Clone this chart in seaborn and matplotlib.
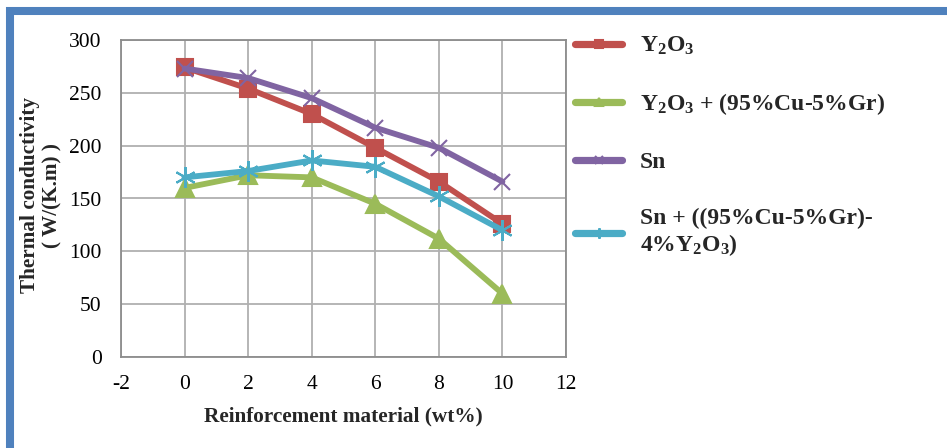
import matplotlib
matplotlib.use("Agg")
import matplotlib.pyplot as plt
import seaborn as sns
import pandas as pd
from matplotlib.patches import Rectangle

# ---- data ----
wt = [0, 2, 4, 6, 8, 10]
y2o3 = [274, 254, 230, 198, 166, 126]
y2o3_cu_gr = [160, 172, 170, 145, 112, 60]
sn = [273, 264, 245, 217, 198, 166]
sn_mix = [170, 176, 186, 180, 152, 120]

labels = ["Y$_2$O$_3$",
          "Y$_2$O$_3$ + (95%Cu-5%Gr)",
          "Sn",
          "Sn + ((95%Cu-5%Gr)-\n4%Y$_2$O$_3$)"]
x_ticks = [-2, 0, 2, 4, 6, 8, 10, 12]
y_ticks = [0, 50, 100, 150, 200, 250, 300]

sns.set_theme(style="white")
plt.rcParams["font.family"] = ["Liberation Serif", "DejaVu Serif"]
plt.rcParams["axes.unicode_minus"] = False
plt.rcParams["mathtext.fontset"] = "custom"
plt.rcParams["mathtext.rm"] = "Liberation Serif:bold"
plt.rcParams["mathtext.bf"] = "Liberation Serif:bold"
plt.rcParams["mathtext.it"] = "Liberation Serif:bold"
plt.rcParams["mathtext.default"] = "bf"

fig = plt.figure(figsize=(9.47, 4.48), dpi=100)
ax = fig.add_axes([121 / 947, 1 - 357 / 448, (566 - 121) / 947, (357 - 40) / 448])

series = [
    (y2o3, "#C0504D", "s", 11.5),
    (y2o3_cu_gr, "#9BBB59", "^", 12.5),
    (sn, "#8064A2", "x", 12),
    (sn_mix, "#4BACC6", (6, 2, 0), 15),
]
for (vals, col, mk, ms), lab in zip(series, labels):
    df = pd.DataFrame({"wt": wt, "k": vals})
    sns.lineplot(data=df, x="wt", y="k", ax=ax, color=col, linewidth=4.2,
                 marker=mk, markersize=ms, markeredgecolor=col,
                 markeredgewidth=1.5, label=lab, zorder=3)

ax.set_xlim(-2, 12)
ax.set_ylim(0, 300)
ax.set_xticks(x_ticks)
ax.set_yticks(y_ticks)
ax.tick_params(axis="both", length=0, labelsize=15.5, colors="black")
ax.tick_params(axis="y", pad=14)
ax.tick_params(axis="x", pad=13)
ax.grid(True, color="#B0B0B0", linewidth=1.3)
for s in ax.spines.values():
    s.set_color("#8C8C8C")
    s.set_linewidth(1.3)

ax.set_xlabel("Reinforcement material (wt%)", fontsize=15.3, fontweight="bold", labelpad=9)
ax.set_ylabel("Thermal conductivity\n( W/(K.m) )", fontsize=15.3, fontweight="bold",
              linespacing=1.15)
ax.yaxis.set_label_coords(-0.131, 0.51)

leg = ax.legend(loc="upper left", bbox_to_anchor=(575 / 947, 1 - 35 / 448),
                bbox_transform=fig.transFigure, frameon=False, borderpad=0,
                borderaxespad=0,
                prop={"size": 17, "weight": "bold"}, handlelength=2.0,
                labelspacing=1.45, handletextpad=0.75, markerscale=0.5)
for line in leg.get_lines():
    line.set_linewidth(5.2)

fig.patches.append(Rectangle((10 / 947, -0.2), 2.0, 1.2 - 11 / 448,
                             transform=fig.transFigure, fill=False,
                             edgecolor="#4F81BD", linewidth=5.8, zorder=10))

fig.savefig("out.png", dpi=100)
